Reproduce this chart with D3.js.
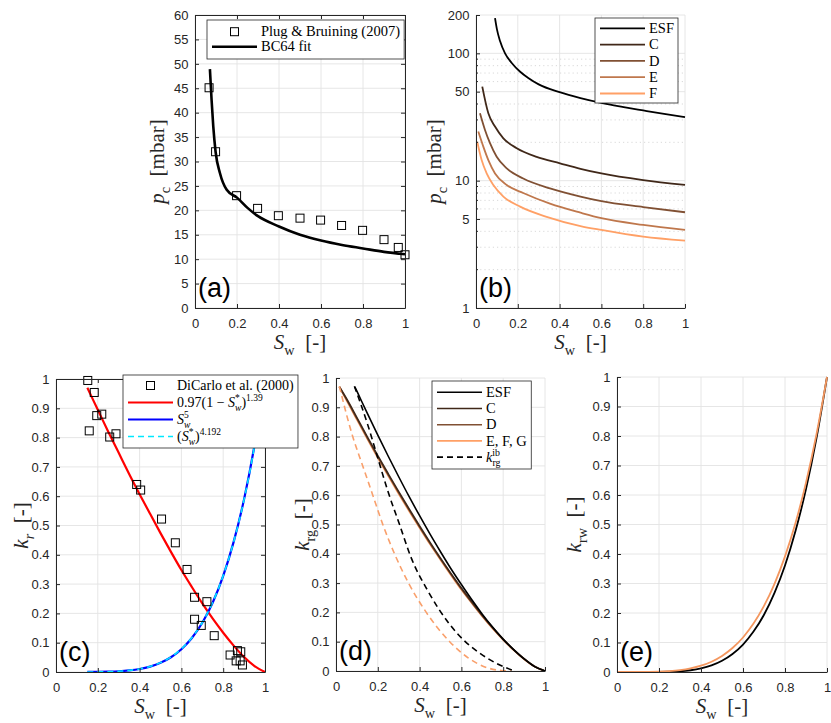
<!DOCTYPE html>
<html>
<head>
<meta charset="utf-8">
<script src="https://cdn.jsdelivr.net/npm/d3@7"></script>
<style>body{margin:0;background:#fff}</style>
</head>
<body>
<svg id="fig" width="831" height="723"></svg>
<script>
// ---- tick labels
const swTicks = [0, 0.2, 0.4, 0.6, 0.8, 1];
const pcTicksA = [0, 5, 10, 15, 20, 25, 30, 35, 40, 45, 50, 55, 60];
const pcTicksB = [1, 5, 10, 50, 100, 200];
const pcMinorB = [2, 3, 4, 6, 7, 8, 9, 20, 30, 40, 60, 70, 80, 90];
const krTicks = [0, 0.1, 0.2, 0.3, 0.4, 0.5, 0.6, 0.7, 0.8, 0.9, 1];

// ---- (a) capillary pressure data + BC64 fit
const plugSw = [0.067, 0.098, 0.198, 0.298, 0.397, 0.5, 0.598, 0.698, 0.798, 0.9, 0.968, 1.0];
const plugPc = [45.1, 32.0, 23.0, 20.4, 18.9, 18.4, 18.0, 16.9, 15.9, 14.0, 12.4, 10.9];
const bcSw = [0.071, 0.079, 0.087, 0.098, 0.119, 0.151, 0.2, 0.25, 0.3, 0.4, 0.5, 0.6, 0.7, 0.8, 0.9, 1.0];
const bcPc = [48.9, 42.6, 37.2, 32.0, 27.6, 24.2, 22.6, 20.5, 18.8, 16.7, 15.0, 13.8, 12.9, 12.2, 11.5, 11.0];

// ---- (b) pc per sand
const esfSw = [0.091, 0.1, 0.115, 0.139, 0.171, 0.21, 0.25, 0.3, 0.4, 0.5, 0.6, 0.7, 0.8, 0.9, 1.0];
const esfPc = [189, 155, 125, 100, 84, 72, 64, 57, 49.5, 44.5, 40.8, 38, 35.6, 33.4, 31.5];
const cSw = [0.03, 0.059, 0.091, 0.131, 0.195, 0.29, 0.402, 0.5, 0.6, 0.8, 1.0];
const cPc = [54.8, 33.8, 26.6, 21.5, 18.0, 15.4, 13.7, 12.4, 11.4, 10.1, 9.25];
const dSw = [0.019, 0.043, 0.067, 0.099, 0.147, 0.226, 0.354, 0.5, 0.6, 0.8, 1.0];
const dPc = [33.8, 25.0, 19.7, 15.4, 12.5, 10.4, 8.7, 7.5, 6.9, 6.2, 5.65];
const eSw = [0.011, 0.035, 0.059, 0.091, 0.147, 0.226, 0.354, 0.5, 0.6, 0.8, 1.0];
const ePc = [24.3, 18.5, 14.5, 11.4, 9.25, 8.0, 6.6, 5.6, 5.07, 4.49, 4.1];
const fSw = [0.006, 0.027, 0.051, 0.083, 0.131, 0.211, 0.338, 0.5, 0.6, 0.8, 1.0];
const fPc = [20.2, 14.5, 11.4, 9.25, 7.5, 6.25, 5.2, 4.4, 4.1, 3.63, 3.38];

// ---- (c) relative permeability data + fits
const dcSw = [0.152, 0.183, 0.195, 0.219, 0.159, 0.257, 0.287, 0.386, 0.405, 0.505, 0.571, 0.627,
  0.663, 0.722, 0.663, 0.695, 0.757, 0.833, 0.868, 0.884, 0.862, 0.881, 0.892];
const dcKr = [0.995, 0.954, 0.875, 0.88, 0.823, 0.802, 0.813, 0.64, 0.621, 0.522, 0.441, 0.35,
  0.255, 0.24, 0.18, 0.159, 0.124, 0.058, 0.073, 0.069, 0.038, 0.038, 0.024];
const fitSw = [0.15, 0.2, 0.25, 0.3, 0.35, 0.4, 0.45, 0.5, 0.55, 0.6, 0.65, 0.7, 0.75, 0.8, 0.85, 0.9, 0.95, 1.0];
const redKr = [0.97, 0.895, 0.82, 0.748, 0.676, 0.607, 0.54, 0.474, 0.41, 0.348, 0.29, 0.234, 0.182, 0.134, 0.09, 0.051, 0.02, 0];
const blueKr = [0.0001, 0.0003, 0.001, 0.0024, 0.0053, 0.0102, 0.0185, 0.0313, 0.0503, 0.0778, 0.116, 0.168, 0.237, 0.328, 0.444, 0.59, 0.774, 1];
const cyanKr = [0, 0.0003, 0.001, 0.0025, 0.0055, 0.0105, 0.019, 0.032, 0.051, 0.079, 0.117, 0.169, 0.238, 0.329, 0.444, 0.589, 0.773, 1];

// ---- (d) krg
const esfGSw = [0.09, 0.1, 0.15, 0.2, 0.25, 0.3, 0.35, 0.4, 0.45, 0.5, 0.55, 0.6, 0.65, 0.7, 0.75, 0.8, 0.85, 0.9, 0.95, 1];
const esfKrg = [0.97, 0.955, 0.879, 0.805, 0.733, 0.663, 0.595, 0.53, 0.467, 0.407, 0.349, 0.295, 0.243, 0.194, 0.149, 0.108, 0.073, 0.041, 0.015, 0];
const sandGSw = [0.016, 0.05, 0.1, 0.15, 0.2, 0.25, 0.3, 0.35, 0.4, 0.45, 0.5, 0.55, 0.6, 0.65, 0.7, 0.75, 0.8, 0.85, 0.9, 0.95, 1];
const cKrg = [0.97, 0.93, 0.865, 0.799, 0.735, 0.673, 0.612, 0.553, 0.495, 0.439, 0.385, 0.333, 0.283, 0.236, 0.19, 0.148, 0.109, 0.073, 0.042, 0.016, 0];
const dKrg = [0.97, 0.927, 0.861, 0.795, 0.731, 0.669, 0.608, 0.549, 0.491, 0.435, 0.382, 0.33, 0.28, 0.233, 0.188, 0.146, 0.107, 0.072, 0.041, 0.015, 0];
const efgKrg = [0.97, 0.924, 0.857, 0.791, 0.727, 0.665, 0.604, 0.545, 0.488, 0.432, 0.379, 0.327, 0.277, 0.231, 0.186, 0.144, 0.106, 0.071, 0.04, 0.015, 0];
const ibEsfSw = [0.088, 0.152, 0.2, 0.248, 0.304, 0.36, 0.44, 0.544, 0.616, 0.696, 0.776, 0.856];
const ibEsfKrg = [0.972, 0.84, 0.727, 0.614, 0.5, 0.386, 0.273, 0.159, 0.102, 0.057, 0.023, 0];
const ibSandSw = [0.016, 0.08, 0.128, 0.176, 0.224, 0.28, 0.347, 0.432, 0.544, 0.632, 0.72, 0.8, 0.84];
const ibSandKrg = [0.972, 0.8, 0.7, 0.6, 0.5, 0.4, 0.3, 0.2, 0.1, 0.045, 0.012, 0.001, 0];

// ---- (e) krw
const esfWSw = [0, 0.09, 0.2, 0.3, 0.35, 0.4, 0.45, 0.5, 0.55, 0.6, 0.65, 0.7, 0.75, 0.8, 0.85, 0.9, 0.95, 1];
const esfKrw = [0, 0, 0.0002, 0.0025, 0.0059, 0.0121, 0.0223, 0.038, 0.061, 0.093, 0.137, 0.194, 0.268, 0.361, 0.478, 0.62, 0.793, 1];
const sandWSw = [0, 0.1, 0.2, 0.25, 0.3, 0.35, 0.4, 0.45, 0.5, 0.55, 0.6, 0.65, 0.7, 0.75, 0.8, 0.85, 0.9, 0.95, 1];
const sandKrw = [0, 0.0001, 0.0012, 0.003, 0.0064, 0.0122, 0.0213, 0.0349, 0.0544, 0.0812, 0.117, 0.164, 0.224, 0.299, 0.392, 0.505, 0.642, 0.806, 1];

const AX = "#262626", GRID = "#e3e3e3";
const SANS = "'Liberation Sans', Arial, Helvetica, sans-serif";
const SERIF = "'Liberation Serif', 'Times New Roman', serif";
const copper = ["#000000", "#402819", "#805033", "#bf774c", "#ffa066"];

const svg = d3.select("#fig");

// text with italic / sub / sup pieces
function rich(t, base, parts) {
  let shift = 0;
  parts.forEach(p => {
    const small = p.sub || p.sup;
    const target = p.sub ? base * 0.3 : p.sup ? -base * 0.42 : 0;
    const ts = t.append("tspan")
      .attr("dy", target - shift)
      .attr("font-size", small ? base * 0.68 : base)
      .attr("font-style", p.it ? "italic" : "normal")
      .text(p.t);
    if (p.dx) ts.attr("dx", p.dx);
    shift = target;
  });
}

function panel(o) {
  const x = d3.scaleLinear().domain([0, 1]).range([o.x0, o.x1]);
  const y = (o.log ? d3.scaleLog() : d3.scaleLinear()).domain(o.yd).range([o.yb, o.yt]);
  const g = svg.append("g");

  if (o.minor) {
    g.append("g").selectAll(null).data(o.minor).join("line")
      .attr("x1", o.x0).attr("x2", o.x1)
      .attr("y1", d => y(d)).attr("y2", d => y(d))
      .attr("stroke", "#cfcfcf").attr("stroke-width", 0.8).attr("stroke-dasharray", "1.2,3");
  }
  const grid = g.append("g").attr("stroke", GRID).attr("stroke-width", 0.9);
  grid.selectAll(null).data(o.xt).join("line")
    .attr("x1", d => x(d)).attr("x2", d => x(d)).attr("y1", o.yb).attr("y2", o.yt);
  grid.selectAll(null).data(o.ytk).join("line")
    .attr("x1", o.x0).attr("x2", o.x1).attr("y1", d => y(d)).attr("y2", d => y(d));

  const plot = g.append("g");
  const fmt = d3.format("~g");
  const style = sel => sel.attr("color", AX).attr("font-family", SANS).attr("font-size", 13);

  g.append("g").attr("transform", `translate(0,${o.yb})`)
    .call(d3.axisBottom(x).tickValues(o.xt).tickFormat(fmt).tickSizeInner(-4).tickSizeOuter(0).tickPadding(11))
    .call(style);
  const left = d3.axisLeft(y).tickValues(o.ytk).tickFormat(fmt).tickSizeInner(-4).tickSizeOuter(0).tickPadding(6.5);
  g.append("g").attr("transform", `translate(${o.x0},0)`).call(left).call(style);
  if (o.minor) {
    g.append("g").selectAll(null).data(o.minor).join("line")
      .attr("x1", o.x0).attr("x2", o.x0 + 2).attr("y1", d => y(d)).attr("y2", d => y(d))
      .attr("stroke", AX);
  }
  if (o.box) {
    g.append("g").attr("transform", `translate(0,${o.yt})`)
      .call(d3.axisTop(x).tickValues(o.xt).tickFormat("").tickSizeInner(-4).tickSizeOuter(0))
      .call(style);
    g.append("g").attr("transform", `translate(${o.x1},0)`)
      .call(d3.axisRight(y).tickValues(o.ytk).tickFormat("").tickSizeInner(-4).tickSizeOuter(0))
      .call(style);
  }

  // x label
  const xl = g.append("text").attr("x", (o.x0 + o.x1) / 2).attr("y", o.yb + 41)
    .attr("text-anchor", "middle").attr("font-family", SERIF).attr("fill", AX);
  rich(xl, 21, [{ t: "S", it: true }, { t: "w", sub: true }, { t: "\u2002[-]" }]);
  // y label
  const yl = g.append("text")
    .attr("transform", `translate(${o.ylx},${(o.yt + o.yb) / 2}) rotate(-90)`)
    .attr("text-anchor", "middle").attr("font-family", SERIF).attr("fill", AX);
  rich(yl, 21, o.ylab);
  // panel letter
  g.append("text").attr("x", o.x0 + 3).attr("y", o.yb - 11)
    .attr("font-family", SANS).attr("font-size", 27).attr("fill", "#000").text(o.tag);

  return { x, y, g: plot, top: g };
}

function curve(p, xs, ys, color, w, dash) {
  const line = d3.line().x(d => p.x(d[0])).y(d => p.y(d[1])).curve(d3.curveMonotoneX);
  p.g.append("path").datum(d3.zip(xs, ys)).attr("d", line)
    .attr("fill", "none").attr("stroke", color).attr("stroke-width", w)
    .attr("stroke-dasharray", dash || null);
}

function squares(p, xs, ys) {
  p.g.append("g").selectAll("rect").data(d3.zip(xs, ys)).join("rect")
    .attr("x", d => p.x(d[0]) - 4).attr("y", d => p.y(d[1]) - 4)
    .attr("width", 8).attr("height", 8)
    .attr("fill", "none").attr("stroke", "#000").attr("stroke-width", 1);
}

function legend(p, o) {
  const fs = o.fs || 14.5;
  const lg = p.top.append("g");
  const box = lg.append("rect").attr("fill", "#fff").attr("stroke", AX).attr("stroke-width", 0.8);
  let right = 0;
  o.rows.forEach((r, i) => {
    const cy = o.y + o.pad + i * o.step;
    const a = o.x + 5, b = o.x + 50;
    if (r.marker) {
      lg.append("rect").attr("x", (a + b) / 2 - 4).attr("y", cy - 4).attr("width", 8).attr("height", 8)
        .attr("fill", "none").attr("stroke", "#000");
    } else {
      lg.append("line").attr("x1", a).attr("x2", b).attr("y1", cy).attr("y2", cy)
        .attr("stroke", r.color).attr("stroke-width", r.w || 1.8).attr("stroke-dasharray", r.dash || null);
    }
    const t = lg.append("text").attr("x", b + 4).attr("y", cy + fs * 0.33)
      .attr("font-family", SERIF).attr("fill", "#000");
    rich(t, fs, r.parts);
    const bb = t.node().getBBox();
    right = Math.max(right, bb.x + bb.width);
  });
  box.attr("x", o.x).attr("y", o.y).attr("width", right + 4 - o.x).attr("height", o.h);
}

// ---------- (a)
const pA = panel({ x0: 195, x1: 405, yt: 15, yb: 308, yd: [0, 60], xt: swTicks, ytk: pcTicksA, box: true, tag: "(a)",
  ylx: 164, ylab: [{ t: "p", it: true }, { t: "c", sub: true }, { t: "\u2002[mbar]" }] });
curve(pA, bcSw, bcPc, "#000", 2.6);
squares(pA, plugSw, plugPc);
legend(pA, { x: 207, y: 20, h: 39, pad: 11.7, step: 15, rows: [
  { marker: true, parts: [{ t: "Plug & Bruining (2007)" }] },
  { color: "#000", w: 2.6, parts: [{ t: "BC64 fit" }] }
] });

// ---------- (b)
const pB = panel({ x0: 476, x1: 685, yt: 15, yb: 308, yd: [1, 200], log: true, minor: pcMinorB, xt: swTicks, ytk: pcTicksB, tag: "(b)",
  ylx: 441, ylab: [{ t: "p", it: true }, { t: "c", sub: true }, { t: "\u2002[mbar]" }] });
curve(pB, esfSw, esfPc, copper[0], 1.8);
curve(pB, cSw, cPc, copper[1], 1.8);
curve(pB, dSw, dPc, copper[2], 1.8);
curve(pB, eSw, ePc, copper[3], 1.8);
curve(pB, fSw, fPc, copper[4], 1.8);
legend(pB, { x: 595, y: 18, h: 85, pad: 10.3, step: 16.3, rows:
  ["ESF", "C", "D", "E", "F"].map((s, i) => ({ color: copper[i], parts: [{ t: s }] })) });

// ---------- (c)
const FC = 14;
const supW = -FC * 0.68 * 0.5;
const pC = panel({ x0: 56, x1: 265, yt: 379, yb: 672, yd: [0, 1], xt: swTicks, ytk: krTicks, box: true, tag: "(c)",
  ylx: 28, ylab: [{ t: "k", it: true }, { t: "r", sub: true, it: true }, { t: "\u2002[-]" }] });
curve(pC, fitSw, redKr, "#ff0000", 2.2);
curve(pC, fitSw, blueKr, "#0000ff", 2.2);
curve(pC, fitSw, cyanKr, "#00e8ff", 1.6, "6,4");
squares(pC, dcSw, dcKr);
legend(pC, { x: 123, y: 375, h: 73, fs: FC, pad: 10.5, step: 17, rows: [
  { marker: true, parts: [{ t: "DiCarlo et al. (2000)" }] },
  { color: "#ff0000", w: 2.2, parts: [{ t: "0.97(1 \u2212 " }, { t: "S", it: true }, { t: "*", sup: true },
    { t: "w", sub: true, it: true, dx: supW }, { t: ")" }, { t: "1.39", sup: true }] },
  { color: "#0000ff", w: 2.2, parts: [{ t: "S", it: true }, { t: "5", sup: true }, { t: "w", sub: true, it: true, dx: supW }] },
  { color: "#00e8ff", w: 1.6, dash: "6,4", parts: [{ t: "(" }, { t: "S", it: true }, { t: "*", sup: true },
    { t: "w", sub: true, it: true, dx: supW }, { t: ")" }, { t: "4.192", sup: true }] }
] });

// ---------- (d)
const pD = panel({ x0: 336, x1: 545, yt: 378, yb: 671, yd: [0, 1], xt: swTicks, ytk: krTicks, tag: "(d)",
  ylx: 309, ylab: [{ t: "k", it: true }, { t: "rg", sub: true }, { t: "\u2002[-]" }] });
curve(pD, sandGSw, efgKrg, "#ffa066", 1.6);
curve(pD, sandGSw, dKrg, copper[2], 1.6);
curve(pD, sandGSw, cKrg, copper[1], 1.6);
curve(pD, esfGSw, esfKrg, "#000", 1.6);
curve(pD, ibSandSw, ibSandKrg, "#f9a06c", 1.6, "6,4");
curve(pD, ibEsfSw, ibEsfKrg, "#000", 1.6, "6,4");
legend(pD, { x: 432, y: 381, h: 88, pad: 11.3, step: 16.2, rows: [
  { color: "#000", w: 1.6, parts: [{ t: "ESF" }] },
  { color: copper[1], w: 1.6, parts: [{ t: "C" }] },
  { color: copper[2], w: 1.6, parts: [{ t: "D" }] },
  { color: "#ffa066", w: 1.6, parts: [{ t: "E, F, G" }] },
  { color: "#000", w: 1.6, dash: "6,4", parts: [{ t: "k", it: true }, { t: "rg", sub: true }, { t: "ib", sup: true, dx: -14.5 * 0.68 * 0.84 }] }
] });

// ---------- (e)
const pE = panel({ x0: 617, x1: 827, yt: 377, yb: 672, yd: [0, 1], xt: swTicks, ytk: krTicks, tag: "(e)",
  ylx: 581, ylab: [{ t: "k", it: true }, { t: "rw", sub: true }, { t: "\u2002[-]" }] });
curve(pE, esfWSw, esfKrw, "#000", 1.8);
curve(pE, sandWSw, sandKrw, "#f4975f", 1.8);
</script>
</body>
</html>
